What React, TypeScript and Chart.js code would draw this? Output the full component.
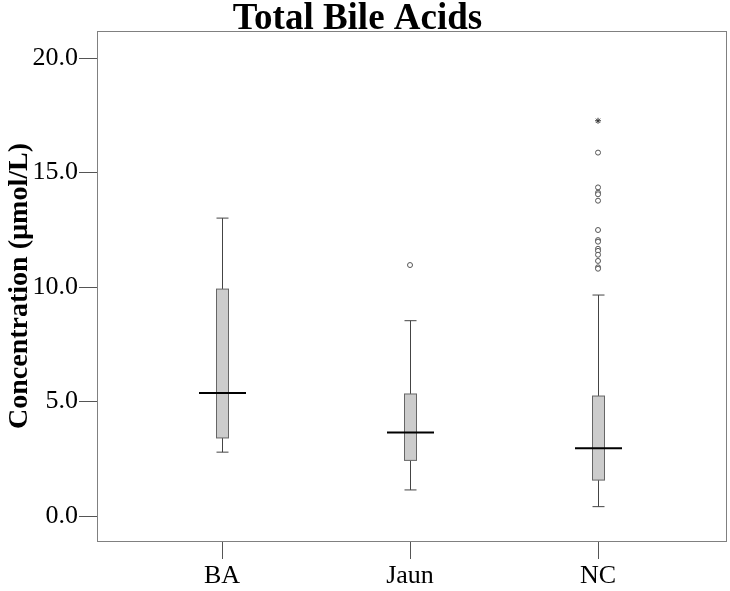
import React, { useEffect, useRef } from "react";
import { Chart, registerables } from "chart.js";

Chart.register(...registerables);

const categories = ["BA", "Jaun", "NC"];
const whiskerLow = [2.79, 1.14, 0.41];
const q1 = [3.41, 2.43, 1.57];
const median = [5.37, 3.65, 2.96];
const q3 = [9.91, 5.33, 5.24];
const whiskerHigh = [13.01, 8.53, 9.65];
const outliersBA: number[] = [];
const outliersJaun = [10.96];
const outliersNC = [15.87, 14.35, 14.12, 14.05, 13.77, 12.49, 12.05, 11.98, 11.67, 11.58, 11.41, 11.14, 10.86, 10.8];
const extremesNC = [17.26];
const yTicks = [0, 5, 10, 15, 20];

const FONT = "'Liberation Serif', 'Times New Roman', serif";

const boxPlugin = {
  id: "boxes",
  beforeDatasetsDraw(chart: any) {
    const { ctx, scales } = chart;
    const xs = scales.x;
    const ys = scales.y;
    const half = 6;
    const medHalf = 23.5;
    ctx.save();
    categories.forEach((_, i) => {
      const cx = Math.round(xs.getPixelForValue(i + 1)) + 0.5;
      const yLo = ys.getPixelForValue(whiskerLow[i]);
      const yQ1 = ys.getPixelForValue(q1[i]);
      const yMed = ys.getPixelForValue(median[i]);
      const yQ3 = ys.getPixelForValue(q3[i]);
      const yHi = ys.getPixelForValue(whiskerHigh[i]);
      ctx.strokeStyle = "#444444";
      ctx.lineWidth = 1;
      ctx.beginPath();
      ctx.moveTo(cx, yHi);
      ctx.lineTo(cx, yQ3);
      ctx.moveTo(cx, yQ1);
      ctx.lineTo(cx, yLo);
      ctx.moveTo(cx - half, yHi);
      ctx.lineTo(cx + half, yHi);
      ctx.moveTo(cx - half, yLo);
      ctx.lineTo(cx + half, yLo);
      ctx.stroke();
      ctx.fillStyle = "#cccccc";
      ctx.fillRect(cx - half, yQ3, half * 2, yQ1 - yQ3);
      ctx.strokeStyle = "#666666";
      ctx.strokeRect(cx - half, yQ3, half * 2, yQ1 - yQ3);
      ctx.strokeStyle = "#000000";
      ctx.lineWidth = 2;
      ctx.beginPath();
      ctx.moveTo(cx - medHalf, yMed);
      ctx.lineTo(cx + medHalf, yMed);
      ctx.stroke();
    });
    ctx.restore();
  },
  afterDraw(chart: any) {
    const { ctx, chartArea } = chart;
    ctx.save();
    ctx.strokeStyle = "#808080";
    ctx.lineWidth = 1;
    const l = Math.round(chartArea.left) + 0.5;
    const t = Math.round(chartArea.top) + 0.5;
    const r = Math.round(chartArea.right) - 0.5;
    const b = Math.round(chartArea.bottom) + 0.5;
    ctx.strokeRect(l, t, r - l, b - t);
    ctx.fillStyle = "#000000";
    ctx.font = `bold 37px ${FONT}`;
    ctx.textAlign = "center";
    ctx.textBaseline = "alphabetic";
    ctx.fillText("Total Bile Acids", 357.5, 29);
    ctx.translate(27, (chartArea.top + chartArea.bottom) / 2);
    ctx.rotate(-Math.PI / 2);
    ctx.font = `bold 28px ${FONT}`;
    ctx.fillText("Concentration (\u00b5mol/L)", 0, 0);
    ctx.restore();
  },
};

export default function App() {
  const ref = useRef<HTMLCanvasElement | null>(null);
  useEffect(() => {
    document.body.style.margin = "0";
    if (!ref.current) return;
    const outlierData = [
      ...outliersBA.map((v) => ({ x: 1, y: v })),
      ...outliersJaun.map((v) => ({ x: 2, y: v })),
      ...outliersNC.map((v) => ({ x: 3, y: v })),
    ];
    const extremeData = extremesNC.map((v) => ({ x: 3, y: v }));
    const chart = new Chart(ref.current, {
      type: "scatter",
      data: {
        datasets: [
          {
            label: "Outliers",
            data: outlierData,
            pointStyle: "circle",
            pointRadius: 2.5,
            borderColor: "#555555",
            backgroundColor: "#ffffff",
            borderWidth: 1,
          },
          {
            label: "Extremes",
            data: extremeData,
            pointStyle: "star",
            pointRadius: 3,
            borderColor: "#333333",
            backgroundColor: "#333333",
            borderWidth: 1,
          },
        ],
      },
      options: {
        animation: false,
        responsive: false,
        layout: { autoPadding: false, padding: { top: 31, right: 3, left: 0, bottom: 0 } },
        plugins: {
          legend: { display: false },
          tooltip: { enabled: false },
          title: { display: false },
        },
        scales: {
          x: {
            type: "linear",
            min: 0.335,
            max: 3.686,
            afterBuildTicks: (s: any) => {
              s.ticks = categories.map((_, i) => ({ value: i + 1 }));
            },
            afterFit: (s: any) => {
              s.height = 50;
              s.paddingLeft = 0;
              s.paddingRight = 0;
            },
            ticks: {
              callback: (v: any) => categories[Number(v) - 1] ?? "",
              font: { family: FONT, size: 26 },
              color: "#000000",
              padding: 2,
              maxRotation: 0,
              autoSkip: false,
            },
            grid: {
              drawOnChartArea: false,
              tickLength: 18,
              tickColor: "#555555",
              color: "#555555",
            },
            border: { display: false },
          },
          y: {
            type: "linear",
            min: -1.09,
            max: 21.18,
            afterBuildTicks: (s: any) => {
              s.ticks = yTicks.map((v) => ({ value: v }));
            },
            afterFit: (s: any) => {
              s.width = 97;
              s.paddingTop = 0;
              s.paddingBottom = 0;
            },
            ticks: {
              callback: (v: any) => Number(v).toFixed(1),
              font: { family: FONT, size: 26 },
              color: "#000000",
              padding: 1,
            },
            grid: {
              drawOnChartArea: false,
              tickLength: 18,
              tickColor: "#555555",
              color: "#555555",
            },
            border: { display: false },
          },
        },
      },
      plugins: [boxPlugin],
    });
    return () => chart.destroy();
  }, []);
  return (
    <div style={{ width: 730, height: 591 }}>
      <canvas ref={ref} width={730} height={591} style={{ display: "block", width: 730, height: 591 }} />
    </div>
  );
}
